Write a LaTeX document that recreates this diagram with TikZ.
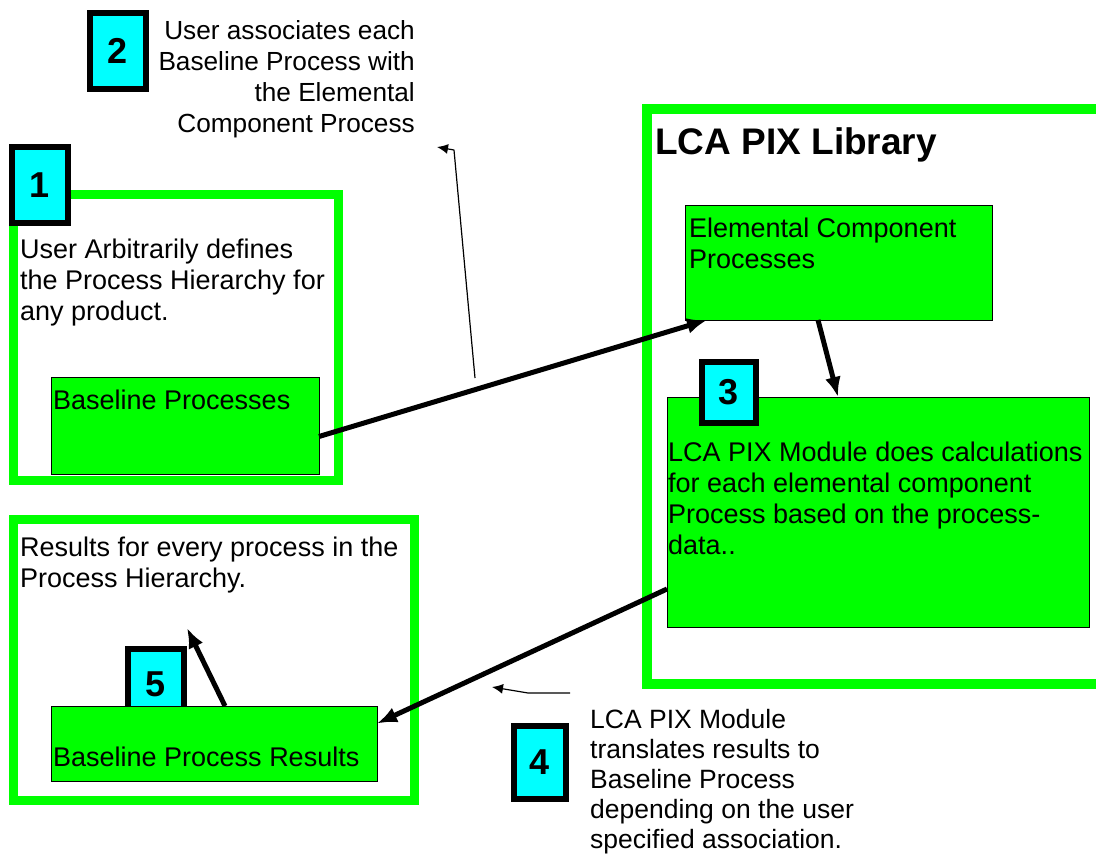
\documentclass[tikz,border=0pt]{standalone}
\usepackage{fontspec}
\setmainfont{Liberation Sans}
\usepackage{xcolor}
\usepackage{tikz}
\usetikzlibrary{calc,arrows.meta}
\definecolor{grn}{HTML}{00FF00}
\definecolor{cyn}{HTML}{00FFFF}
\tikzset{
  frame/.style={draw=grn, line width=9pt, inner sep=0pt, outer sep=0pt, anchor=north west},
  libframe/.style={draw=grn, line width=10pt, line join=miter},
  proc/.style={draw=black, fill=grn, line width=1pt, inner sep=0pt, outer sep=0pt, anchor=north west},
  num/.style={draw=black, fill=cyn, line width=6pt, inner sep=0pt, outer sep=0pt, anchor=north west,
    font=\fontsize{36}{36}\selectfont\bfseries},
  txt/.style={inner sep=0pt, anchor=north west, align=left, font=\fontsize{27}{31}\selectfont},
  title/.style={inner sep=0pt, anchor=north west, font=\fontsize{37}{40}\selectfont\bfseries},
  flow/.style={draw=black, line width=5pt, -{Latex[length=20pt,width=16pt]}},
  hint/.style={draw=black, line width=1.2pt, line join=round, -{Latex[length=11pt,width=10pt]}},
}
\begin{document}
\begin{tikzpicture}[x=1pt, y=-1pt]
  \useasboundingbox (0,0) rectangle (1096,854);
  % frames
  \node[frame, minimum width=325pt, minimum height=286pt] (f1) at (13,194) {};
  \node[frame, minimum width=401pt, minimum height=281pt] (f5) at (13,519) {};
  \draw[libframe] (1096,109) -- (647,109) -- (647,684) -- (1096,684);
  \node[title] (tlib) at (655,127) {LCA PIX Library};
  % process boxes
  \node[proc, minimum width=268pt, minimum height=97pt] (bp) at (51,377) {};
  \node[proc, minimum width=307pt, minimum height=115pt] (ecp) at (685,205) {};
  \node[proc, minimum width=422pt, minimum height=230pt] (mod) at (667,397) {};
  \node[num, minimum width=56pt, minimum height=70pt] (n5) at (128,649) {5};
  \node[proc, minimum width=326pt, minimum height=75pt] (bpr) at (51,706) {};
  % numbered steps
  \node[num, minimum width=56pt, minimum height=76pt] (n1) at (12,147) {1};
  \node[num, minimum width=56pt, minimum height=76pt] (n2) at (90,13) {2};
  \node[num, minimum width=54pt, minimum height=61pt] (n3) at (702,362) {3};
  \node[num, minimum width=52pt, minimum height=73pt] (n4) at (514,726) {4};
  % texts
  \node[txt] (t1) at (20,239) {User Arbitrarily defines\\the Process Hierarchy for\\any product.};
  \node[txt, anchor=north east, align=right, font=\fontsize{26.2}{31}\selectfont] (t2) at (415,20)
    {User associates each\\Baseline Process with\\the Elemental\\Component Process};
  \node[txt] (tbp) at (53,390) {Baseline Processes};
  \node[txt] (tecp) at (689,218) {Elemental Component\\Processes};
  \node[txt] (tmod) at (668,442)
    {LCA PIX Module does calculations\\for each elemental component\\Process based on the process-\\data..};
  \node[txt] (tres) at (20,537) {Results for every process in the\\Process Hierarchy.};
  \node[txt] (tbpr) at (53,747) {Baseline Process Results};
  \node[txt, font=\fontsize{26.5}{30}\selectfont] (t4) at (590,709)
    {LCA PIX Module\\translates results to\\Baseline Process\\depending on the user\\specified association.};
  % connectors
  \coordinate (tip5) at (187,628);
  \coordinate (h2a) at (475,378);
  \coordinate (h2m) at (454,150);
  \coordinate (h2b) at (437,147);
  \coordinate (h4a) at (570,693);
  \coordinate (h4m) at (528,693);
  \coordinate (h4b) at (492,687);
  \draw[flow] ([yshift=-11pt]bp.east) -- ([xshift=22pt]ecp.south west);
  \draw[flow] ([xshift=133pt]ecp.south west) -- ([xshift=171pt]mod.north west);
  \draw[flow] ([yshift=38pt]mod.south west) -- ([yshift=20pt]bpr.east);
  \draw[flow] ([xshift=174pt]bpr.north west) -- (tip5);
  \draw[hint] (h2a) -- (h2m) -- (h2b);
  \draw[hint] (h4a) -- (h4m) -- (h4b);
\end{tikzpicture}
\end{document}
